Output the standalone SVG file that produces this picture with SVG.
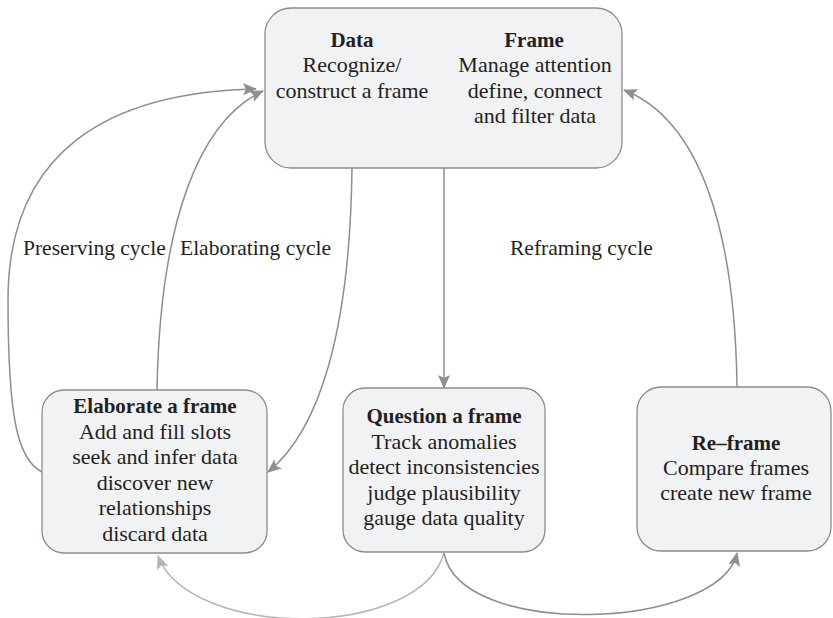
<svg xmlns="http://www.w3.org/2000/svg" width="833" height="618" viewBox="0 0 833 618">
  <style>
    .box { fill: #f1f2f4; stroke: #8c8c8c; stroke-width: 1.3; }
    text { fill: #231f20; text-anchor: middle; }
    .t { font-size: 22px; }
    .b { font-size: 21px; font-weight: bold; }
    .lbl { font-size: 21.5px; text-anchor: start; }
    .edge { fill: none; stroke: #8e8e8e; stroke-width: 1.5; }
    .edge.light { stroke: #b4b4b4; }
  </style>
  <defs>
    <marker id="ah" markerUnits="userSpaceOnUse" markerWidth="14" markerHeight="12" viewBox="0 0 14 12" refX="13" refY="6" orient="auto">
      <path d="M0,0 L14,6 L0,12 L3,6 Z" fill="#8e8e8e"/>
    </marker>
    <marker id="ahl" markerUnits="userSpaceOnUse" markerWidth="14" markerHeight="12" viewBox="0 0 14 12" refX="13" refY="6" orient="auto">
      <path d="M0,0 L14,6 L0,12 L3,6 Z" fill="#b4b4b4"/>
    </marker>
  </defs>

  <rect width="833" height="618" fill="#ffffff"/>

  <g id="connectors">
    <!-- data/frame down into elaborate -->
    <path class="edge" d="M352,168 C350,330 320,430 268,472" marker-end="url(#ah)"/>
    <!-- elaborating cycle -->
    <path class="edge" d="M157,390 C160,220 200,120 263,91" marker-end="url(#ah)"/>
    <!-- preserving cycle -->
    <path class="edge" d="M42,472 C18,460 8,420 8,300 C8,150 110,92 256,89" marker-end="url(#ah)"/>
    <!-- data/frame down into question -->
    <path class="edge" d="M444,168 L444,388" marker-end="url(#ah)"/>
    <!-- reframing cycle -->
    <path class="edge" d="M737,387 C735,230 700,120 624,90" marker-end="url(#ah)"/>
    <!-- question back to elaborate -->
    <path class="edge light" d="M444,553 C420,640 190,640 158,556" marker-end="url(#ahl)"/>
    <!-- question on to re-frame -->
    <path class="edge" d="M444,553 C460,640 720,630 737,553" marker-end="url(#ah)"/>
  </g>

  <g font-family="'Liberation Serif', 'Times New Roman', Times, serif">
    <g id="labels">
      <text class="lbl" x="23" y="255">Preserving cycle</text>
      <text class="lbl" x="180" y="255">Elaborating cycle</text>
      <text class="lbl" x="510" y="255">Reframing cycle</text>
    </g>

    <g id="node-data-frame">
      <rect class="box" x="265" y="8" width="357" height="160" rx="26"/>
      <text class="b" x="352" y="47">Data</text>
      <text class="t" x="352" y="72">Recognize/</text>
      <text class="t" x="352" y="98">construct a frame</text>
      <text class="b" x="534" y="47">Frame</text>
      <text class="t" x="535" y="72">Manage attention</text>
      <text class="t" x="535" y="98">define, connect</text>
      <text class="t" x="535" y="123">and filter data</text>
    </g>

    <g id="node-elaborate">
      <rect class="box" x="42" y="390" width="225" height="163" rx="22"/>
      <text class="b" x="155" y="413">Elaborate a frame</text>
      <text class="t" x="155" y="439">Add and fill slots</text>
      <text class="t" x="155" y="464">seek and infer data</text>
      <text class="t" x="155" y="490">discover new</text>
      <text class="t" x="155" y="515">relationships</text>
      <text class="t" x="155" y="541">discard data</text>
    </g>

    <g id="node-question">
      <rect class="box" x="343" y="388" width="202" height="164" rx="22"/>
      <text class="b" x="444" y="423">Question a frame</text>
      <text class="t" x="444" y="449">Track anomalies</text>
      <text class="t" x="444" y="474">detect inconsistencies</text>
      <text class="t" x="444" y="500">judge plausibility</text>
      <text class="t" x="444" y="525">gauge data quality</text>
    </g>

    <g id="node-reframe">
      <rect class="box" x="637" y="387" width="194" height="164" rx="24"/>
      <text class="b" x="736" y="450">Re–frame</text>
      <text class="t" x="736" y="475">Compare frames</text>
      <text class="t" x="736" y="500">create new frame</text>
    </g>
  </g>
</svg>
